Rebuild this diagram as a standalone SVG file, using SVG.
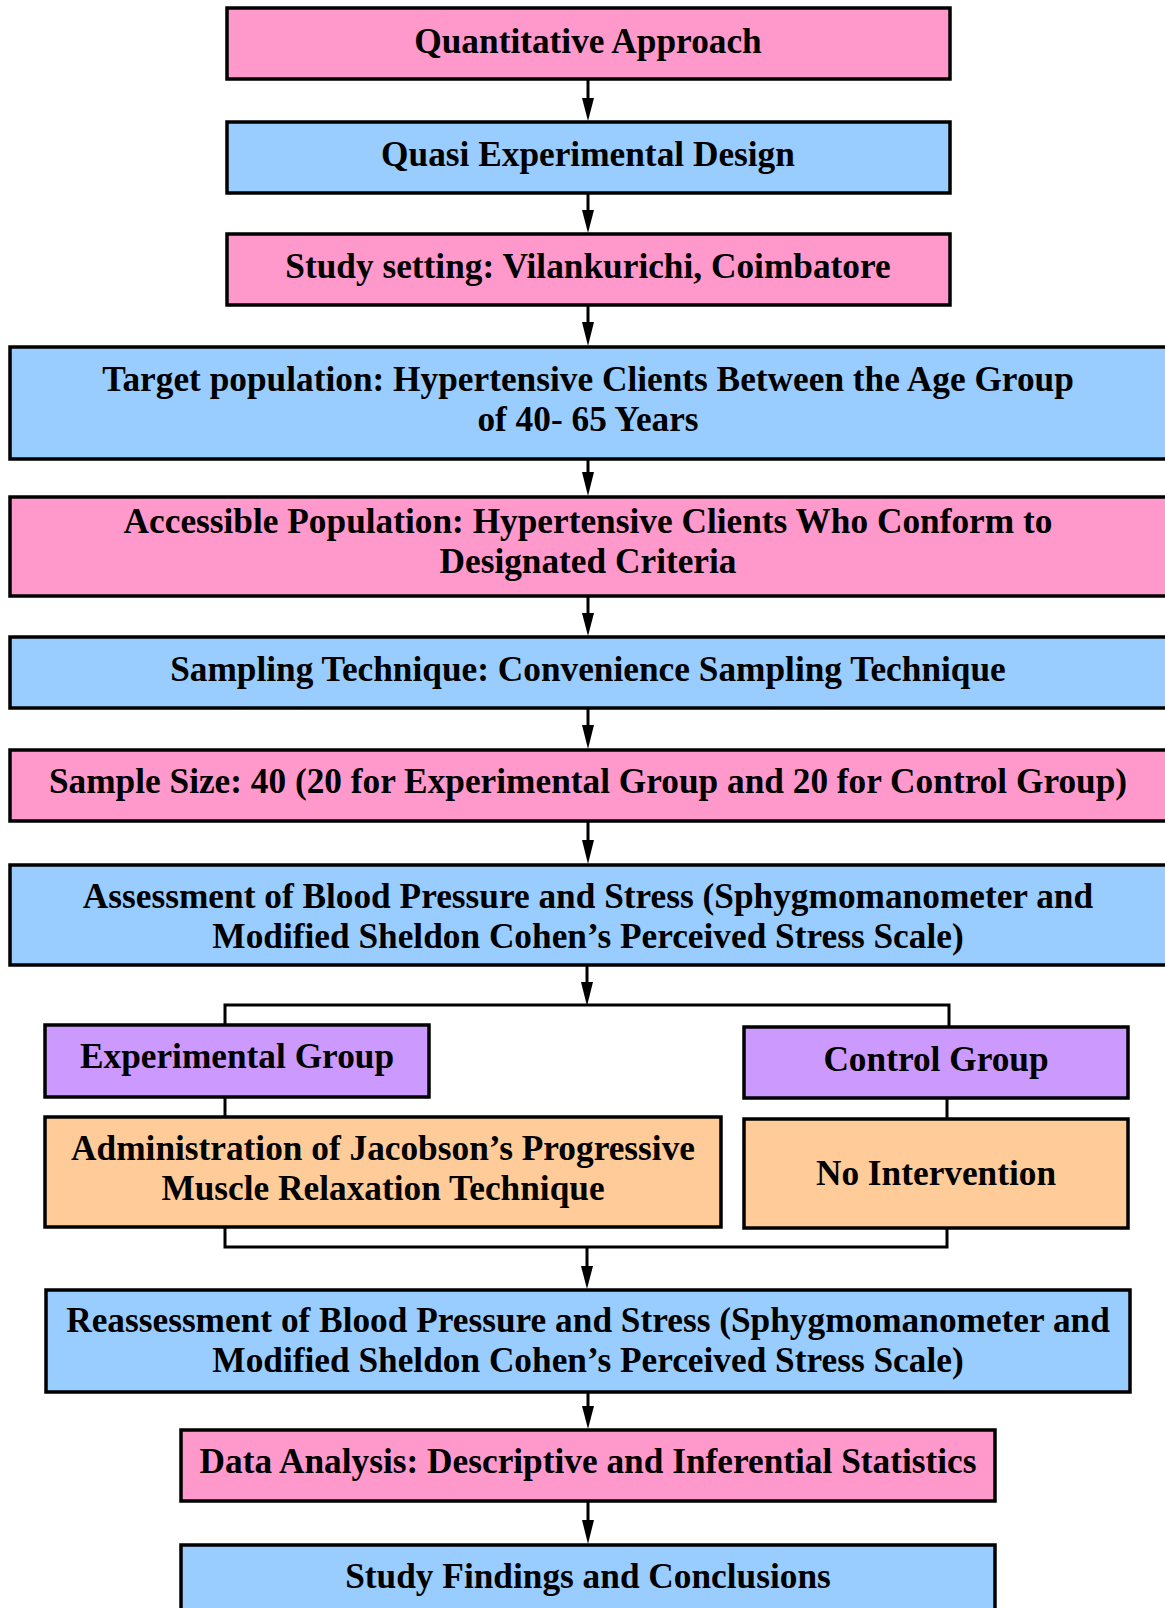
<svg xmlns="http://www.w3.org/2000/svg" width="1165" height="1608" viewBox="0 0 1165 1608">
<style>
.box{stroke:#000;stroke-width:3.5}
.pink{fill:#FF99CC}.blue{fill:#99CCFF}.purple{fill:#CC99FF}.orange{fill:#FFCC99}
text{font-family:"Liberation Serif","Times New Roman",serif;font-weight:bold;font-size:35.3px;fill:#000;text-anchor:middle}
.ln{stroke:#000;stroke-width:3;fill:none}
.ar{stroke:#000;stroke-width:3;fill:none;marker-end:url(#ah)}
</style>
<defs>
<marker id="ah" markerUnits="userSpaceOnUse" markerWidth="14" markerHeight="24" viewBox="0 0 14 24" refX="7" refY="23" orient="auto">
<path d="M1,0 L13,0 L7,24 Z" fill="#000" transform="rotate(0)"/>
</marker>
</defs>
<rect width="1165" height="1608" fill="#fff"/>
<g id="connectors">
<path class="ln" d="M588,80 V100"/><path d="M582,98 L594,98 L588,121 Z"/>
<path class="ln" d="M588,194 V212"/><path d="M582,210 L594,210 L588,233 Z"/>
<path class="ln" d="M588,306 V324"/><path d="M582,322 L594,322 L588,346 Z"/>
<path class="ln" d="M588,460 V474"/><path d="M582,472 L594,472 L588,496 Z"/>
<path class="ln" d="M588,597 V615"/><path d="M582,613 L594,613 L588,636 Z"/>
<path class="ln" d="M588,709 V727"/><path d="M582,725 L594,725 L588,749 Z"/>
<path class="ln" d="M588,822 V842"/><path d="M582,840 L594,840 L588,864 Z"/>
<path class="ln" d="M587,966 V984"/><path d="M581,982 L593,982 L587,1006 Z"/>
<path class="ln" d="M225,1025 V1005 H949 V1027"/>
<path class="ln" d="M225,1097 V1117"/>
<path class="ln" d="M947,1098 V1119"/>
<path class="ln" d="M225,1227 V1247 H947 V1228"/>
<path class="ln" d="M587,1247 V1268"/><path d="M581,1266 L593,1266 L587,1289 Z"/>
<path class="ln" d="M588,1393 V1408"/><path d="M582,1406 L594,1406 L588,1429 Z"/>
<path class="ln" d="M588,1502 V1522"/><path d="M582,1520 L594,1520 L588,1544 Z"/>
</g>
<g id="n1"><rect class="box pink" x="227" y="8" width="723" height="71"/><text x="588" y="53">Quantitative Approach</text></g>
<g id="n2"><rect class="box blue" x="227" y="122" width="723" height="71"/><text x="588" y="166">Quasi Experimental Design</text></g>
<g id="n3"><rect class="box pink" x="227" y="234" width="723" height="71"/><text x="588" y="278">Study setting: Vilankurichi, Coimbatore</text></g>
<g id="n4"><rect class="box blue" x="10" y="347" width="1160" height="112"/><text x="588" y="391">Target population: Hypertensive Clients Between the Age Group</text><text x="588" y="431">of 40- 65 Years</text></g>
<g id="n5"><rect class="box pink" x="10" y="497" width="1160" height="99"/><text x="588" y="533">Accessible Population: Hypertensive Clients Who Conform to</text><text x="588" y="573">Designated Criteria</text></g>
<g id="n6"><rect class="box blue" x="10" y="637" width="1160" height="71"/><text x="588" y="681">Sampling Technique: Convenience Sampling Technique</text></g>
<g id="n7"><rect class="box pink" x="10" y="750" width="1160" height="71"/><text x="588" y="793">Sample Size: 40 (20 for Experimental Group and 20 for Control Group)</text></g>
<g id="n8"><rect class="box blue" x="10" y="865" width="1160" height="100"/><text x="588" y="908">Assessment of Blood Pressure and Stress (Sphygmomanometer and</text><text x="588" y="948">Modified Sheldon Cohen’s Perceived Stress Scale)</text></g>
<g id="n9"><rect class="box purple" x="45" y="1025" width="384" height="72"/><text x="237" y="1068">Experimental Group</text></g>
<g id="n10"><rect class="box purple" x="744" y="1027" width="384" height="71"/><text x="936" y="1071">Control Group</text></g>
<g id="n11"><rect class="box orange" x="45" y="1117" width="676" height="110"/><text x="383" y="1160">Administration of Jacobson’s Progressive</text><text x="383" y="1200">Muscle Relaxation Technique</text></g>
<g id="n12"><rect class="box orange" x="744" y="1119" width="384" height="109"/><text x="936" y="1185">No Intervention</text></g>
<g id="n13"><rect class="box blue" x="46" y="1290" width="1084" height="102"/><text x="588" y="1332">Reassessment of Blood Pressure and Stress (Sphygmomanometer and</text><text x="588" y="1372">Modified Sheldon Cohen’s Perceived Stress Scale)</text></g>
<g id="n14"><rect class="box pink" x="181" y="1430" width="814" height="71"/><text x="588" y="1473">Data Analysis: Descriptive and Inferential Statistics</text></g>
<g id="n15"><rect class="box blue" x="181" y="1545" width="814" height="80"/><text x="588" y="1588">Study Findings and Conclusions</text></g>
</svg>
